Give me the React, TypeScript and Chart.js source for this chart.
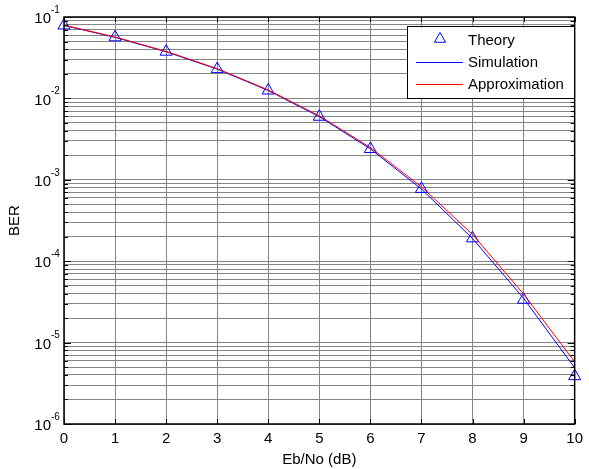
import React, { useEffect, useRef } from 'react';
import { Chart, registerables } from 'chart.js';

Chart.register(...registerables);

const ebno = [0, 1, 2, 3, 4, 5, 6, 7, 8, 9, 10];
const theory = [0.0786, 0.0563, 0.0375, 0.0229, 0.0125, 0.00595, 0.00239, 0.000773, 0.000191, 0.0000336, 0.00000387];
const simulation = [0.0787, 0.0562, 0.0374, 0.0229, 0.0125, 0.00596, 0.0024, 0.00077, 0.00019, 0.000035, 0.0000049];
const approximation = [0.0795, 0.0567, 0.0378, 0.0232, 0.0127, 0.0061, 0.00249, 0.00082, 0.000213, 0.0000395, 0.0000058];
const xTicks = [0, 1, 2, 3, 4, 5, 6, 7, 8, 9, 10];
const yDecades = [-6, -5, -4, -3, -2, -1];
const legendLabels = ['Theory', 'Simulation', 'Approximation'];
const xTitle = 'Eb/No (dB)';
const yTitle = 'BER';

const FONT = '"Liberation Sans", Arial, Helvetica, sans-serif';
const BLUE = '#0000ff';
const RED = '#ff0000';
const GRID = '#858585';

function drawTriangle(ctx: CanvasRenderingContext2D, x: number, y: number, r: number) {
  ctx.beginPath();
  for (let i = 0; i < 3; i++) {
    const a = (i * 2 * Math.PI) / 3;
    const px = x + Math.sin(a) * r;
    const py = y - Math.cos(a) * r;
    if (i === 0) ctx.moveTo(px, py);
    else ctx.lineTo(px, py);
  }
  ctx.closePath();
  ctx.stroke();
}

const decorPlugin = {
  id: 'decor',
  afterDraw(chart: any) {
    const ctx: CanvasRenderingContext2D = chart.ctx;
    const { left, right, top, bottom } = chart.chartArea;
    const xs = chart.scales.x;
    const ys = chart.scales.y;
    ctx.save();

    // tick marks (inside)
    ctx.strokeStyle = '#000';
    ctx.lineWidth = 1;
    ctx.beginPath();
    xTicks.forEach((v) => {
      const px = Math.round(xs.getPixelForValue(v)) + 0.5;
      ctx.moveTo(px, bottom);
      ctx.lineTo(px, bottom - 5);
      ctx.moveTo(px, top);
      ctx.lineTo(px, top + 5);
    });
    yDecades.forEach((e) => {
      for (let m = 1; m <= 9; m++) {
        const v = m * Math.pow(10, e);
        if (v > Math.pow(10, yDecades[yDecades.length - 1]) * 1.0001) break;
        const py = Math.round(ys.getPixelForValue(v)) + 0.5;
        const len = m === 1 ? 7 : 4;
        ctx.moveTo(left, py);
        ctx.lineTo(left + len, py);
        ctx.moveTo(right, py);
        ctx.lineTo(right - len, py);
      }
    });
    ctx.stroke();

    // axes box
    ctx.lineWidth = 1.5;
    ctx.strokeRect(left, top, right - left, bottom - top);

    // y tick labels 10^e
    ctx.fillStyle = '#000';
    yDecades.forEach((e) => {
      const py = ys.getPixelForValue(Math.pow(10, e));
      ctx.font = `15px ${FONT}`;
      ctx.textAlign = 'right';
      ctx.textBaseline = 'middle';
      ctx.fillText('10', 51, py + 2);
      ctx.font = `10px ${FONT}`;
      ctx.textAlign = 'left';
      ctx.fillText(String(e), 51, py - 7);
    });

    // legend
    const lx = 407, ly = 26, lw = 167, lh = 72;
    ctx.fillStyle = '#fff';
    ctx.fillRect(lx, ly, lw, lh);
    ctx.strokeStyle = '#000';
    ctx.lineWidth = 1;
    ctx.strokeRect(lx + 0.5, ly + 0.5, lw, lh);

    const rows = [40, 62, 84];
    ctx.strokeStyle = BLUE;
    ctx.lineWidth = 1;
    drawTriangle(ctx, 440, rows[0] - 1, 6.5);
    ctx.beginPath();
    ctx.moveTo(416, rows[1] + 0.5);
    ctx.lineTo(463, rows[1] + 0.5);
    ctx.stroke();
    ctx.strokeStyle = RED;
    ctx.beginPath();
    ctx.moveTo(416, rows[2] + 0.5);
    ctx.lineTo(463, rows[2] + 0.5);
    ctx.stroke();

    ctx.fillStyle = '#000';
    ctx.font = `15px ${FONT}`;
    ctx.textAlign = 'left';
    ctx.textBaseline = 'middle';
    legendLabels.forEach((t, i) => ctx.fillText(t, 468, rows[i] + 1));

    ctx.restore();
  },
};

export default function App() {
  const ref = useRef<HTMLCanvasElement | null>(null);

  useEffect(() => {
    if (!ref.current) return;
    const mk = (arr: number[]) => ebno.map((x, i) => ({ x, y: arr[i] }));
    const chart = new Chart(ref.current, {
      type: 'line',
      data: {
        datasets: [
          {
            label: legendLabels[0],
            data: mk(theory),
            showLine: false,
            borderColor: BLUE,
            backgroundColor: 'rgba(0,0,0,0)',
            pointStyle: 'triangle',
            pointRadius: 7,
            pointBorderWidth: 1,
            pointBorderColor: BLUE,
            pointBackgroundColor: 'rgba(0,0,0,0)',
            clip: false as any,
            order: 3,
          },
          {
            label: legendLabels[1],
            data: mk(simulation),
            borderColor: BLUE,
            borderWidth: 1,
            pointRadius: 0,
            tension: 0,
            order: 2,
          },
          {
            label: legendLabels[2],
            data: mk(approximation),
            borderColor: RED,
            borderWidth: 1,
            pointRadius: 0,
            tension: 0,
            order: 1,
          },
        ],
      },
      options: {
        responsive: false,
        animation: false,
        events: [],
        layout: { padding: { left: 0, top: 17, right: 10, bottom: 0 } },
        plugins: { legend: { display: false }, tooltip: { enabled: false } },
        scales: {
          x: {
            type: 'linear',
            min: 0,
            max: 10,
            afterBuildTicks: (scale: any) => {
              scale.ticks = xTicks.map((v) => ({ value: v }));
            },
            afterFit: (scale: any) => {
              scale.height = 45;
            },
            ticks: {
              color: '#000',
              font: { family: FONT, size: 15 },
              padding: 6,
              maxRotation: 0,
              autoSkip: false,
              callback: (v: any) => String(v),
            },
            grid: { color: GRID, lineWidth: 1, drawTicks: false },
            border: { display: false },
            title: {
              display: true,
              text: xTitle,
              color: '#000',
              font: { family: FONT, size: 15 },
              padding: { top: 0, bottom: 0 },
            },
          },
          y: {
            type: 'logarithmic',
            min: 1e-6,
            max: 1e-1,
            afterBuildTicks: (scale: any) => {
              const t: any[] = [];
              yDecades.forEach((e) => {
                for (let m = 1; m <= 9; m++) {
                  const v = m * Math.pow(10, e);
                  if (v <= 0.1 * 1.0001) t.push({ value: v, major: m === 1 });
                }
              });
              scale.ticks = t;
            },
            afterFit: (scale: any) => {
              scale.width = 64;
            },
            ticks: { display: false },
            grid: { color: GRID, lineWidth: 1, drawTicks: false },
            border: { display: false },
            title: {
              display: true,
              text: yTitle,
              color: '#000',
              font: { family: FONT, size: 15 },
              padding: { top: 6, bottom: 0 },
            },
          },
        },
      },
      plugins: [decorPlugin],
    } as any);
    return () => chart.destroy();
  }, []);

  return (
    <div style={{ position: 'absolute', left: 0, top: 0, width: 589, height: 469, background: '#fff' }}>
      <canvas ref={ref} width={589} height={469} style={{ display: 'block' }} />
    </div>
  );
}
